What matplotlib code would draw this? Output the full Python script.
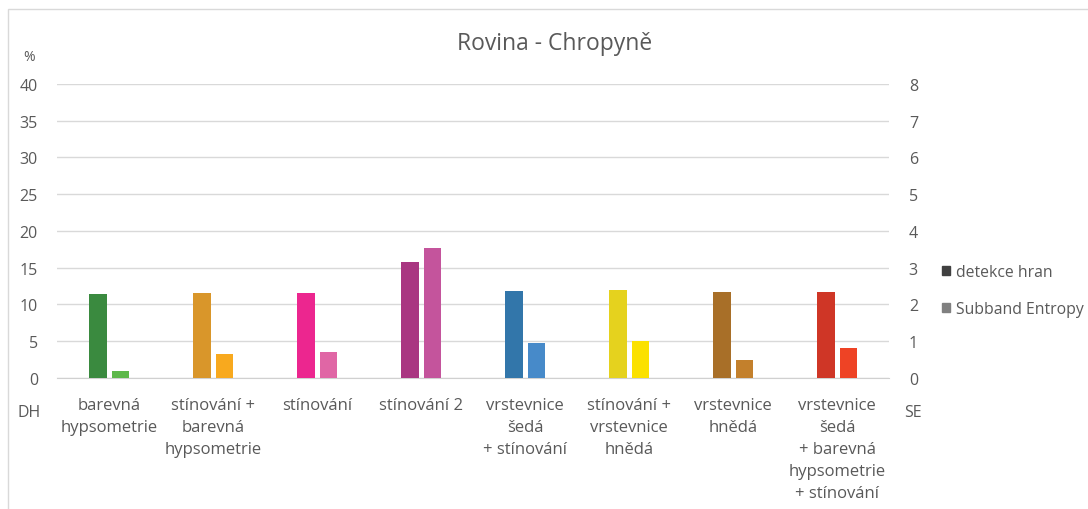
import numpy as np
import matplotlib
matplotlib.use("Agg")
import matplotlib.pyplot as plt
from matplotlib.patches import Patch, Rectangle

plt.rcParams['font.family'] = ['Open Sans', 'DejaVu Sans']

# Data
categories = [
    "barevná\nhypsometrie",
    "stínování +\nbarevná\nhypsometrie",
    "stínování",
    "stínování 2",
    "vrstevnice\nšedá\n+ stínování",
    "stínování +\nvrstevnice\nhnědá",
    "vrstevnice\nhnědá",
    "vrstevnice\nšedá\n+ barevná\nhypsometrie\n+ stínování",
]
detekce_hran = [11.4, 11.5, 11.6, 15.8, 11.9, 12.0, 11.7, 11.7]       # %, left axis
subband_entropy = [0.19, 0.66, 0.72, 3.54, 0.96, 1.01, 0.50, 0.82]    # right axis

dark_colors = ['#3A8A3F', '#D9962A', '#EC268F', '#A93681',
               '#3276AA', '#E5D21E', '#A86F28', '#CF3626']
light_colors = ['#5DB84A', '#F8A91E', '#E066A5', '#C4549C',
                '#478AC9', '#FBE100', '#C3802C', '#EE4325']

grey = '#595959'

fig = plt.figure(figsize=(10.88, 5.10), dpi=100)
ax = fig.add_axes([0.0527, 0.2569, 0.7647, 0.5765])
ax2 = ax.twinx()

x = np.arange(len(categories))
w = 0.17
off = 0.107
ax.bar(x - off, detekce_hran, width=w, color=dark_colors, zorder=3)
ax2.bar(x + off, subband_entropy, width=w, color=light_colors, zorder=3)

ax.set_xlim(-0.5, len(categories) - 0.5)
ax.set_ylim(0, 40)
ax2.set_ylim(0, 8)
ax.set_yticks(range(0, 41, 5))
ax2.set_yticks(range(0, 9, 1))

ax.yaxis.grid(True, color='#D9D9D9', linewidth=1, zorder=0)
ax.set_axisbelow(True)

for a in (ax, ax2):
    for s in a.spines.values():
        s.set_visible(False)
    a.tick_params(length=0, colors=grey, labelsize=11.5)
ax.spines['bottom'].set_visible(True)
ax.spines['bottom'].set_color('#D0D0D0')
ax.tick_params(axis='y', pad=14)
ax2.tick_params(axis='y', pad=14)

ax.set_xticks(x)
ax.set_xticklabels(categories, linespacing=1.5, fontsize=12, color=grey)
ax.tick_params(axis='x', pad=14)

fig.text(0.51, 0.914, "Rovina - Chropyně", ha='center', va='center',
         fontsize=16.5, color=grey)
fig.text(0.027, 0.888, "%", ha='center', va='center', fontsize=10, color=grey)
fig.text(0.027, 0.19, "DH", ha='center', va='center', fontsize=11.5, color=grey)
fig.text(0.839, 0.19, "SE", ha='center', va='center', fontsize=11.5, color=grey)

handles = [Patch(color='#404040', label='detekce hran'),
           Patch(color='#808080', label='Subband Entropy')]
fig.legend(handles=handles, loc='center left', bbox_to_anchor=(0.853, 0.428),
           frameon=False, handlelength=0.5, handleheight=0.5, handletextpad=0.4,
           labelspacing=1.35, fontsize=11.3, labelcolor=grey)

# chart frame (cut off at right and bottom)
fig.patches.append(Rectangle((8 / 1088, -0.1), 1.2, 1 - 10 / 510 + 0.1,
                             transform=fig.transFigure, fill=False,
                             edgecolor='#D9D9D9', linewidth=1))

fig.savefig("out.png", dpi=100)
